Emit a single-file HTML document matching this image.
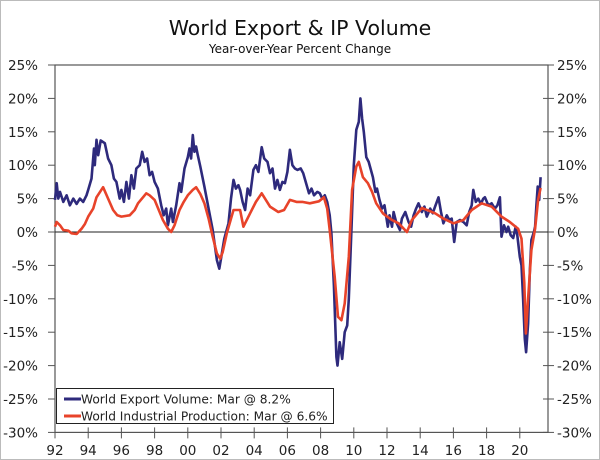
<!DOCTYPE html>
<html><head><meta charset="utf-8">
<style>
html,body{margin:0;padding:0;background:#fff;}
svg{display:block;font-family:"DejaVu Sans","Liberation Sans",sans-serif;}
</style></head>
<body>
<svg id="chart" width="600" height="460" viewBox="0 0 600 460">
  <rect x="0.5" y="0.5" width="599" height="459" fill="#fff" stroke="#bbb"/>
  <text x="300" y="35" text-anchor="middle" font-size="20.5" fill="#111">World Export &amp; IP Volume</text>
  <text x="300" y="53" text-anchor="middle" font-size="12" fill="#111">Year-over-Year Percent Change</text>
  <g id="axes"></g>
  <g id="series"></g>
  <g>
    <rect x="56.5" y="388.5" width="277" height="35" fill="#fff" stroke="#222"/>
    <line x1="64" y1="399" x2="81" y2="399" stroke="#2e2a7c" stroke-width="3"/>
    <text x="81" y="403.5" font-size="12.2" fill="#222">World Export Volume: Mar @ 8.2%</text>
    <line x1="64" y1="416" x2="81" y2="416" stroke="#e8432a" stroke-width="3"/>
    <text x="81" y="420.5" font-size="12.2" fill="#222">World Industrial Production: Mar @ 6.6%</text>
  </g>
</svg>
<script>
const yTicks = [25,20,15,10,5,0,-5,-10,-15,-20,-25,-30];
const xTickYears = [1992,1994,1996,1998,2000,2002,2004,2006,2008,2010,2012,2014,2016,2018,2020];
const xTickLabels = ["92","94","96","98","00","02","04","06","08","10","12","14","16","18","20"];

const exportDates = [1992.0,1992.1,1992.2,1992.3,1992.5,1992.7,1992.9,1993.1,1993.3,1993.5,1993.7,1993.9,1994.0,1994.2,1994.35,1994.4,1994.5,1994.6,1994.75,1995.0,1995.2,1995.4,1995.55,1995.7,1995.9,1996.0,1996.15,1996.3,1996.45,1996.6,1996.75,1996.9,1997.1,1997.25,1997.4,1997.55,1997.7,1997.85,1998.0,1998.2,1998.4,1998.55,1998.7,1998.8,1999.0,1999.1,1999.3,1999.5,1999.6,1999.8,2000.0,2000.1,2000.2,2000.3,2000.4,2000.5,2000.6,2000.75,2001.0,2001.25,2001.5,2001.75,2001.9,2002.0,2002.2,2002.45,2002.6,2002.75,2002.9,2003.05,2003.15,2003.3,2003.45,2003.6,2003.75,2003.95,2004.1,2004.25,2004.45,2004.6,2004.8,2004.95,2005.1,2005.25,2005.4,2005.55,2005.7,2005.85,2006.0,2006.15,2006.3,2006.45,2006.6,2006.8,2006.95,2007.1,2007.3,2007.45,2007.6,2007.8,2007.95,2008.1,2008.25,2008.4,2008.55,2008.65,2008.8,2008.95,2009.02,2009.15,2009.3,2009.45,2009.6,2009.7,2009.85,2010.0,2010.15,2010.3,2010.4,2010.5,2010.6,2010.75,2010.9,2011.15,2011.3,2011.4,2011.55,2011.7,2011.85,2012.05,2012.15,2012.3,2012.4,2012.55,2012.78,2012.9,2013.1,2013.3,2013.45,2013.6,2013.75,2013.9,2014.1,2014.25,2014.4,2014.6,2014.75,2014.9,2015.1,2015.25,2015.4,2015.6,2015.75,2015.9,2016.05,2016.2,2016.4,2016.6,2016.8,2016.95,2017.1,2017.2,2017.35,2017.5,2017.65,2017.8,2017.9,2018.1,2018.3,2018.5,2018.65,2018.8,2018.9,2019.05,2019.2,2019.3,2019.45,2019.6,2019.75,2019.85,2020.0,2020.1,2020.2,2020.3,2020.38,2020.5,2020.6,2020.7,2020.85,2020.92,2021.0,2021.08,2021.17,2021.25];
const exportValues = [4.8,7.3,5,6,4.5,5.5,4,5,4.2,5,4.5,5.5,6.3,8,12.5,10,13.8,11.5,13.7,13.3,11,10,8,7.5,5,6.3,4.5,7.5,5,8.5,6.5,9.5,10,12,10.5,11,8.5,9,7.5,6.5,4,2.5,3.5,1,3.5,1.5,4,7.3,6,9.5,11.2,12.5,11,14.5,12,12.8,11.5,9.8,6.8,3.5,0.3,-4.2,-5.5,-4,-1,1.3,5,7.8,6.5,7,6.3,4.5,3.3,6.5,5.5,9.3,10,9,12.7,11,10.5,8.8,9.5,6.5,7.8,6.3,7.5,7.3,9,12.3,10,9.5,9.3,9.5,8.8,7.5,5.8,6.5,5.5,6,5.8,5,5.5,4.5,2.5,-0.2,-8,-18.7,-20,-16.5,-19,-15,-14,-10,-0.2,10,15.3,16.5,20,17,15,11.2,10.5,8.2,6,6.5,4.8,3.5,4,0.8,2.5,0.8,3,1.5,0.3,2,3,1.5,0.8,2.5,3.5,4.3,3,3.8,2.3,3.5,2.8,3.8,5.2,3,1.3,2.5,1.8,2,-1.5,1.5,1.8,1.5,1,3,4,6.3,4.5,5,4.2,5,5.2,4,4.3,3.5,4,5.2,-0.7,1,0,0.8,-0.5,-0.9,0.8,-0.5,-3.7,-5,-10,-16,-18,-13.7,-6,-1.2,0,0.8,4,6.8,4.8,8.2];

const ipDates = [1992.0,1992.1,1992.3,1992.5,1992.8,1993.0,1993.3,1993.6,1993.8,1994.0,1994.3,1994.5,1994.9,1995.2,1995.5,1995.75,1996.0,1996.5,1996.8,1997.0,1997.3,1997.5,1997.7,1998.0,1998.3,1998.5,1998.8,1999.0,1999.2,1999.5,1999.75,2000.0,2000.3,2000.5,2000.75,2001.0,2001.25,2001.5,2001.75,2001.95,2002.1,2002.35,2002.75,2003.15,2003.35,2003.75,2004.1,2004.45,2004.95,2005.45,2005.8,2006.15,2006.55,2006.9,2007.35,2007.9,2008.2,2008.4,2008.55,2008.85,2009.05,2009.25,2009.45,2009.7,2009.9,2010.15,2010.3,2010.55,2010.85,2011.1,2011.35,2011.75,2012.0,2012.3,2012.7,2013.2,2013.5,2014.1,2014.5,2014.9,2015.4,2016.0,2016.6,2017.1,2017.7,2018.3,2018.9,2019.4,2019.9,2020.1,2020.27,2020.37,2020.5,2020.7,2020.92,2021.1,2021.25];
const ipValues = [0.8,1.5,1,0.3,0.2,-0.2,-0.3,0.5,1.2,2.3,3.5,5.2,6.7,5,3.3,2.5,2.3,2.5,3.3,4.3,5.2,5.8,5.5,4.8,3,1.8,0.5,0,1,3.3,4.5,5.5,6.3,6.7,5.7,4.3,2,-0.7,-3.2,-4,-3,-0.2,3.3,3.3,0.8,2.8,4.5,5.8,3.8,3,3.3,4.8,4.5,4.5,4.3,4.6,5.2,3.5,0.3,-6.7,-12.7,-13.2,-10.7,-3.7,6.3,9.8,10.5,8.2,7.3,6,4.3,2.8,2.3,1.8,1.3,0,1.8,3.6,3.2,2.8,2,1.3,1.8,3.3,4.3,3.8,2.3,1.5,0.5,-1,-7.6,-15.2,-10,-2.7,0.5,4.8,6.6];

const L=55, R=548, T=65, B=432.4;
const x = yr => L + (yr-1992)*16.6;
const y = v => 232 - v*6.68;
const NS="http://www.w3.org/2000/svg";
const axes=document.getElementById('axes');
const series=document.getElementById('series');
function mk(tag, attrs, parent){const e=document.createElementNS(NS,tag);for(const k in attrs)e.setAttribute(k,attrs[k]);parent.appendChild(e);return e;}

let box=mk('rect',{x:L,y:T,width:R-L,height:B-T,fill:'none',stroke:'#555','stroke-width':1.2},axes);



yTicks.forEach(v=>{
  const yy=y(v);
  let t=mk('line',{x1:L-7,y1:yy,x2:L,y2:yy,stroke:'#555','stroke-width':1},axes);
  
  
  let t2=mk('line',{x1:R-5,y1:yy,x2:R+6,y2:yy,stroke:'#555','stroke-width':1},axes);
  
  
  let lab=mk('text',{x:38,y:yy+5,'text-anchor':'end','font-size':13.5,fill:'#222'},axes);
  lab.textContent=v+'%';
  
  
  let lab2=mk('text',{x:557,y:yy+5,'text-anchor':'start','font-size':13.5,fill:'#222'},axes);
  lab2.textContent=v+'%';
  
  
});

xTickYears.forEach((yr,i)=>{
  const xx=x(yr);
  let t=mk('line',{x1:xx,y1:B-5,x2:xx,y2:B+6,stroke:'#555','stroke-width':1},axes);
  
  
  let lab=mk('text',{x:xx,y:455,'text-anchor':'middle','font-size':13.5,fill:'#222'},axes);
  lab.textContent=xTickLabels[i];
  
  
});

let zl=mk('line',{x1:L,y1:y(0),x2:R,y2:y(0),stroke:'#222','stroke-width':1},axes);



function path(dates,vals){return dates.map((d,i)=>(i?'L':'M')+x(d).toFixed(1)+','+y(vals[i]).toFixed(1)).join(' ');}
let pe=mk('path',{d:path(exportDates,exportValues),fill:'none',stroke:'#2e2a7c','stroke-width':2.6,'stroke-linejoin':'round'},series);


let pi=mk('path',{d:path(ipDates,ipValues),fill:'none',stroke:'#e8432a','stroke-width':2.6,'stroke-linejoin':'round'},series);


</script>
</body></html>
